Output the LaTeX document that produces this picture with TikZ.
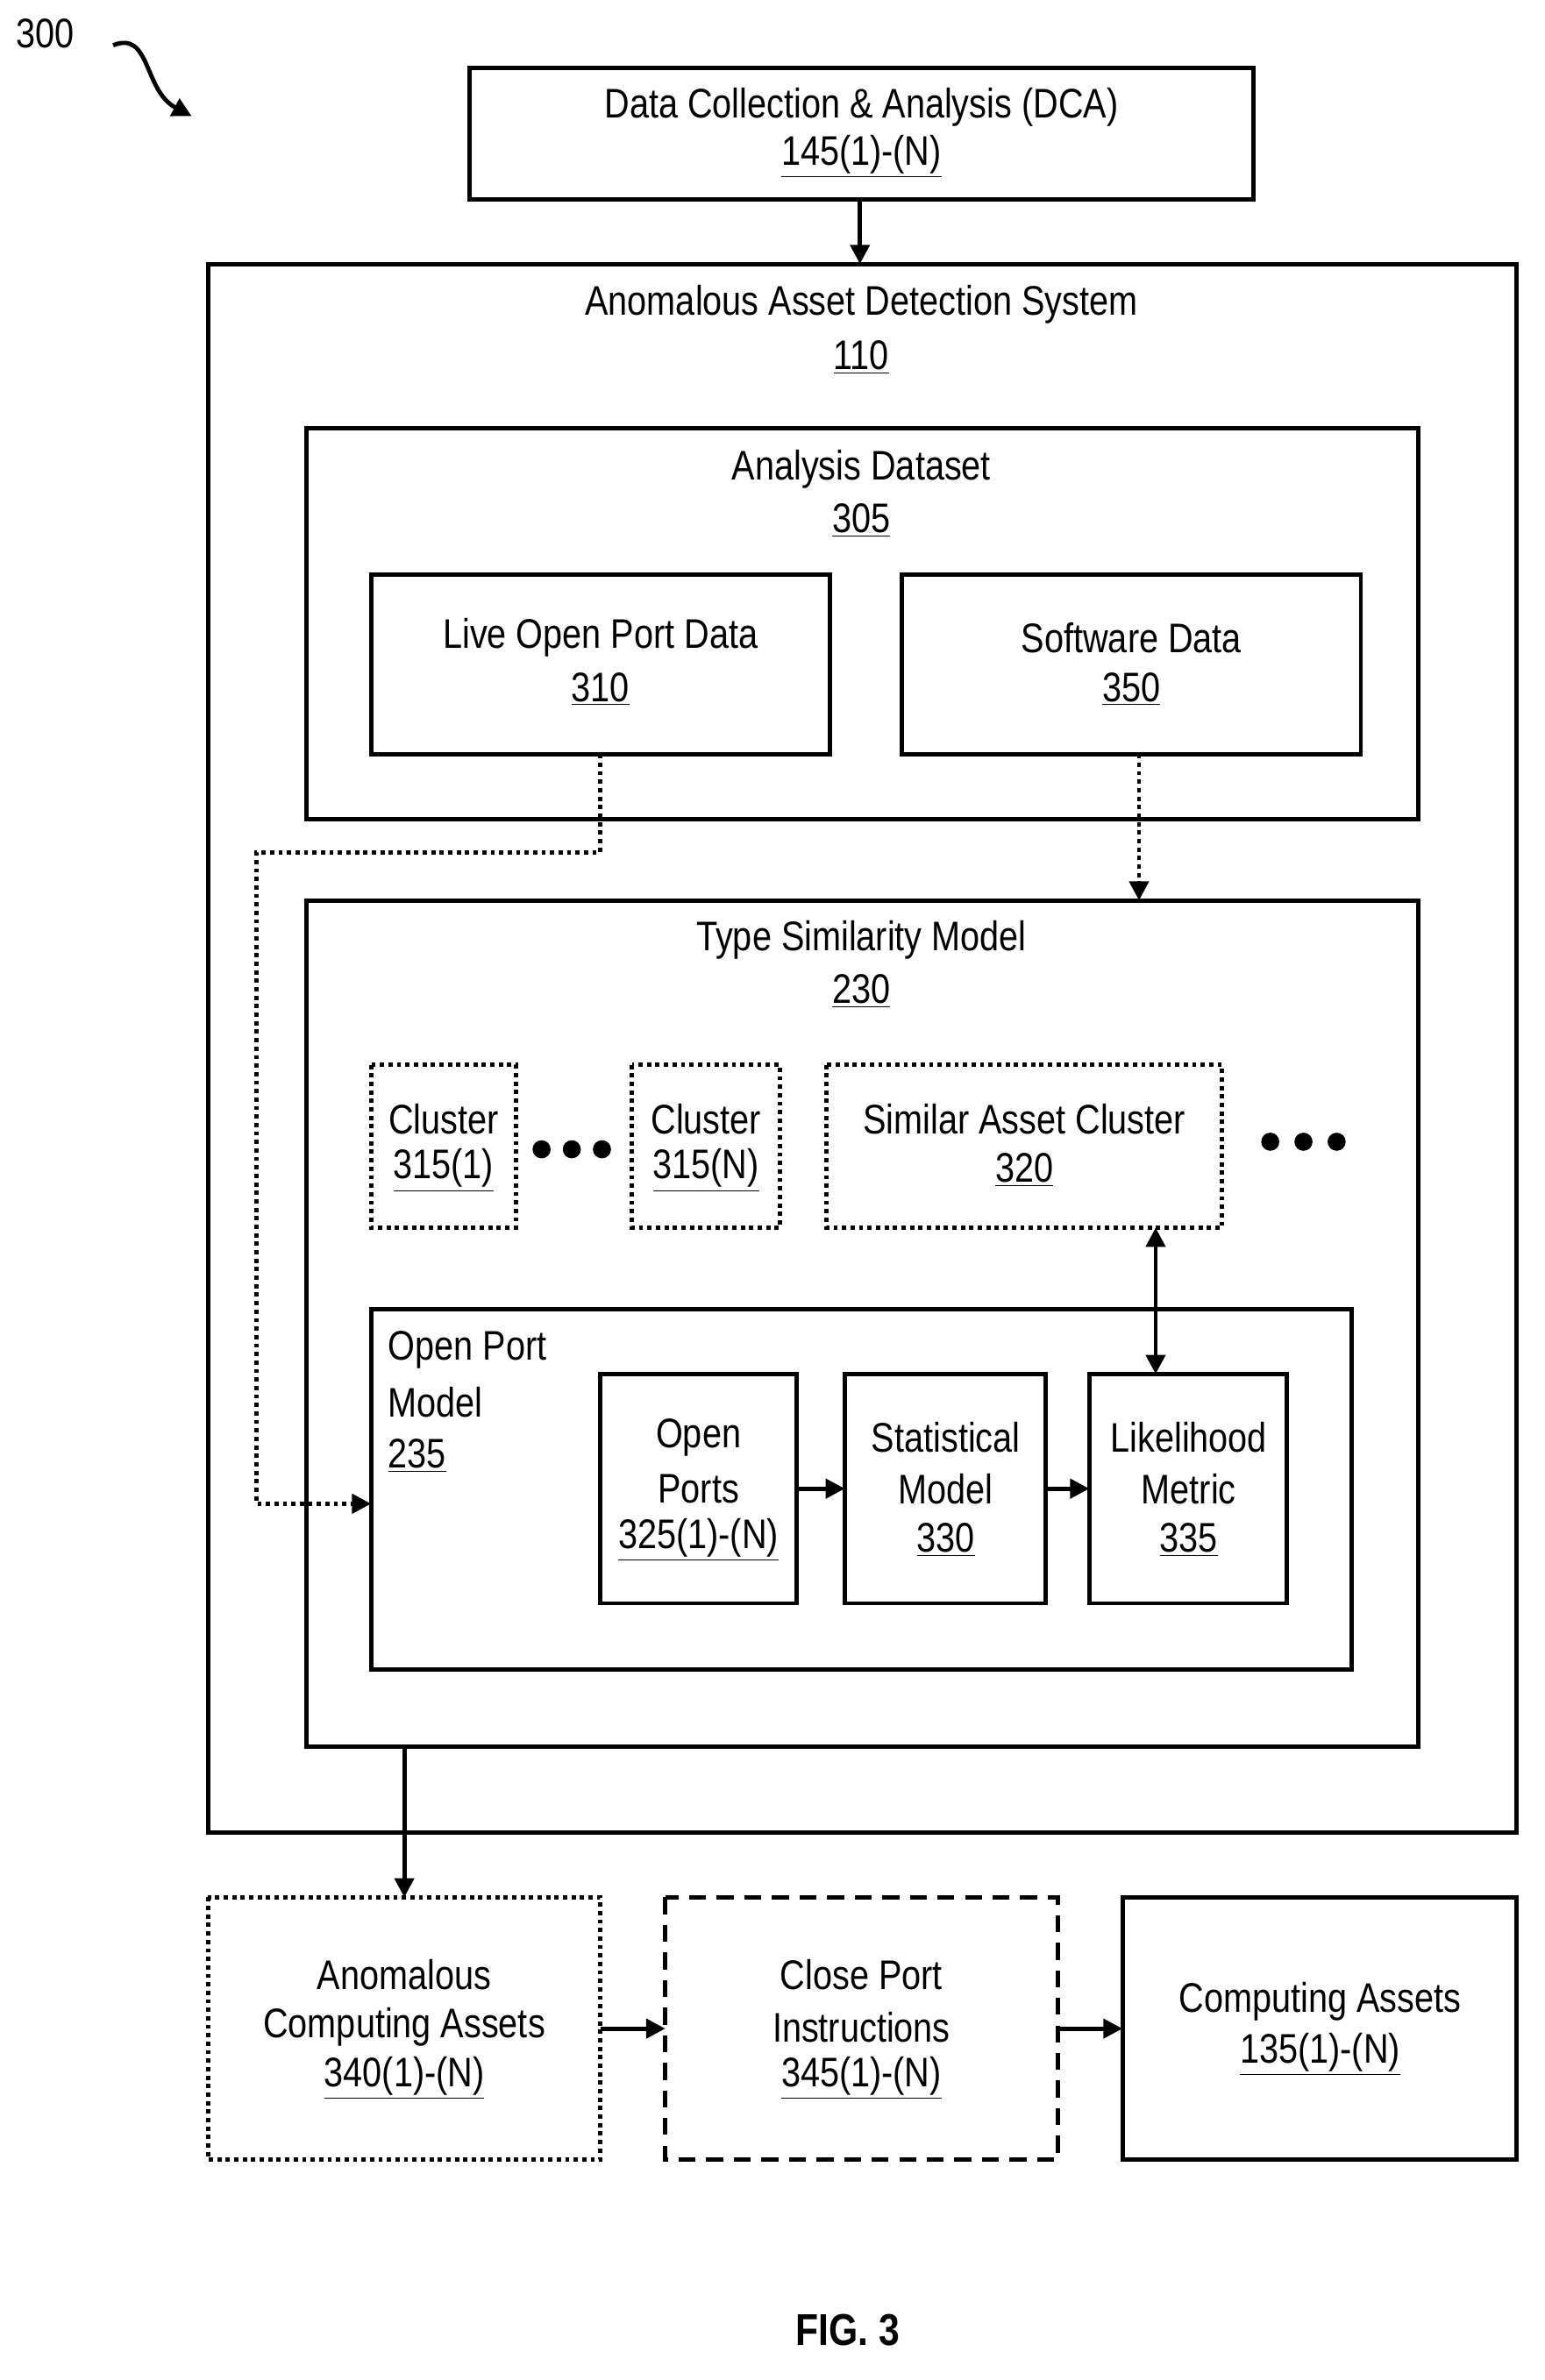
\documentclass[tikz,border=0pt]{standalone}
\usepackage{fontspec}
\setmainfont{Liberation Sans}[FakeStretch=0.84]
\usetikzlibrary{arrows.meta}
\begin{document}
\begin{tikzpicture}[x=0.025cm,y=-0.025cm,
  every node/.style={font=\fontsize{19.5}{23}\selectfont},
  box/.style={draw,line width=2pt},
  dotbox/.style={draw,line width=2pt,dash pattern=on 2pt off 2pt},
  dashbox/.style={draw,line width=2pt,dash pattern=on 8pt off 5pt},
  arr/.style={line width=2pt,-{Triangle[length=9pt,width=9pt]}},
  darr/.style={arr,dash pattern=on 2pt off 2pt},
  t/.style={inner sep=0pt,anchor=center}]
\useasboundingbox (0,0) rectangle (1024,1578);
% DCA
\draw[box] (311,45) rectangle (831,132);
\node[t] at (571,71) {Data Collection \& Analysis (DCA)};
\node[t] at (571,104) {\underline{145(1)-(N)}};
\coordinate (dcab) at (570,132);
% AADS
\draw[box] (138,175) rectangle (1005,1215);
\coordinate (aadst) at (570,175);
\draw[arr] (dcab) -- (aadst);
\node[t] at (571,202) {Anomalous Asset Detection System};
\node[t] at (571,237) {\underline{110}};
% Analysis dataset
\draw[box] (203,284) rectangle (940,543);
\node[t] at (571,311) {Analysis Dataset};
\node[t] at (571,345) {\underline{305}};
\draw[box] (246,381) rectangle (550,500);
\node[t] at (398,423) {Live Open Port Data};
\node[t] at (398,457) {\underline{310}};
\draw[box] (598,381) rectangle (902,500);
\node[t] at (750,423) {Software Data};
\node[t] at (750,457) {\underline{350}};
% TSM
\draw[box] (203,597) rectangle (940,1158);
\node[t] at (571,623) {Type Similarity Model};
\node[t] at (571,657) {\underline{230}};
\draw[darr] (755,500) -- (755,597);
\draw[dotbox] (246,706) rectangle (342,814);
\node[t] at (294,742) {Cluster};
\node[t] at (294,776) {\underline{315(1)}};
\draw[dotbox] (419,706) rectangle (517,814);
\node[t] at (468,742) {Cluster};
\node[t] at (468,776) {\underline{315(N)}};
\draw[dotbox] (548,706) rectangle (810,814);
\node[t] at (679,742) {Similar Asset Cluster};
\node[t] at (679,776) {\underline{320}};
\foreach \x in {359,379,399} \fill (\x,762) circle (6);
\foreach \x in {842,864,886} \fill (\x,757) circle (6);
% Open Port Model
\draw[box] (246,868) rectangle (896,1107);
\node[inner sep=0pt,anchor=west] at (257,895) {Open Port};
\node[inner sep=0pt,anchor=west] at (257,930) {Model};
\node[inner sep=0pt,anchor=west] at (257,965) {\underline{235}};
\draw[darr] (398,500) -- (398,565) -- (170,565) -- (170,997) -- (246,997);
\draw[box] (398,911) rectangle (528,1063);
\node[t] at (463,953) {Open};
\node[t] at (463,987) {Ports};
\node[t] at (463,1021) {\underline{325(1)-(N)}};
\draw[box] (560,911) rectangle (693,1063);
\node[t] at (627,953) {Statistical};
\node[t] at (627,987) {Model};
\node[t] at (627,1021) {\underline{330}};
\draw[box] (722,911) rectangle (853,1063);
\node[t] at (788,953) {Likelihood};
\node[t] at (788,987) {Metric};
\node[t] at (788,1021) {\underline{335}};
\draw[arr] (528,987) -- (560,987);
\draw[arr] (693,987) -- (722,987);
\draw[arr,{Triangle[length=9pt,width=9pt]}-{Triangle[length=9pt,width=9pt]}] (766,814) -- (766,911);
% Bottom
\draw[arr] (268,1158) -- (268,1258);
\draw[dotbox] (138,1258) rectangle (398,1432);
\node[t] at (268,1309) {Anomalous};
\node[t] at (268,1344) {Computing Assets};
\node[t] at (268,1378) {\underline{340(1)-(N)}};
\draw[dashbox] (441,1258) rectangle (701,1432);
\node[t] at (571,1309) {Close Port};
\node[t] at (571,1344) {Instructions};
\node[t] at (571,1378) {\underline{345(1)-(N)}};
\draw[box] (744,1258) rectangle (1005,1432);
\node[t] at (875,1327) {Computing Assets};
\node[t] at (875,1362) {\underline{135(1)-(N)}};
\draw[arr] (398,1345) -- (441,1345);
\draw[arr] (701,1345) -- (744,1345);
\node[t,font=\fontsize{21}{24}\selectfont\bfseries] at (562,1545) {FIG. 3};
\node[t] at (30,22) {300};
\draw[arr] (75,30) .. controls (100,20) and (95,60) .. (127,77);
\end{tikzpicture}
\end{document}
